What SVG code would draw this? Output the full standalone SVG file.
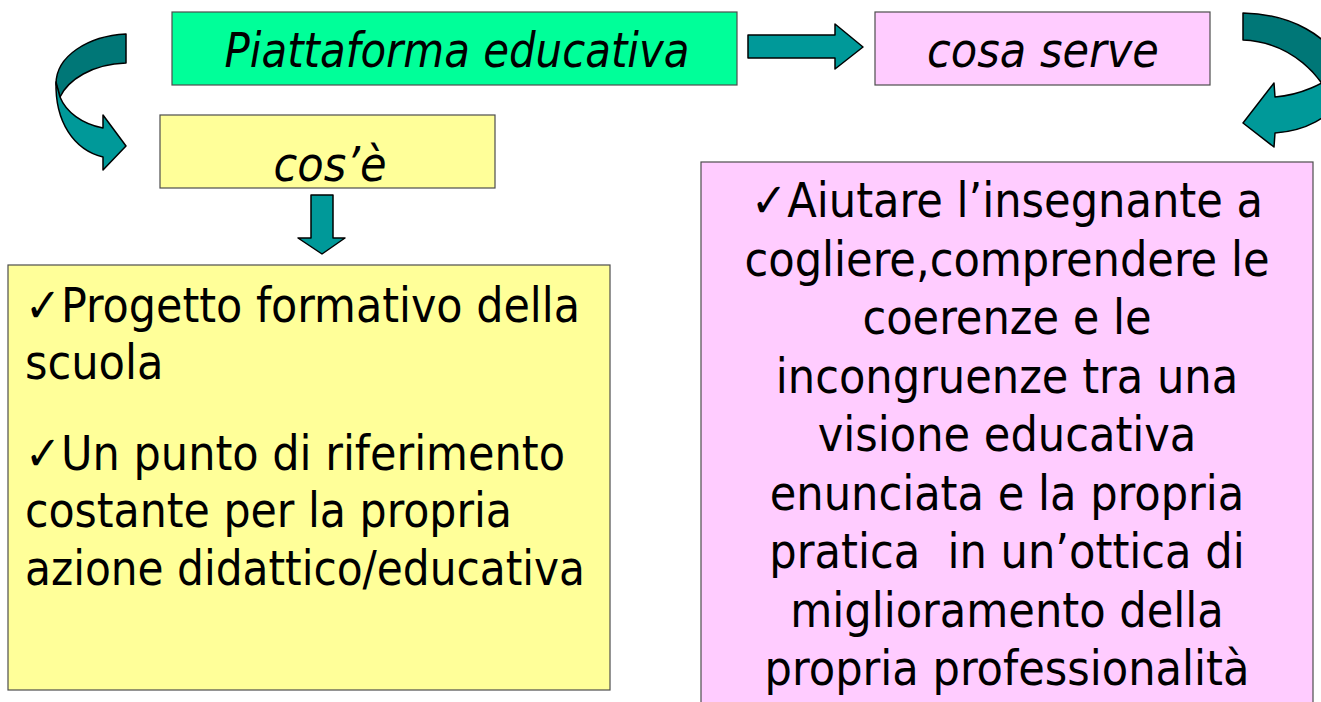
<svg xmlns="http://www.w3.org/2000/svg" width="1321" height="702" viewBox="0 0 1321 702">
<style>
.box{stroke:#4d4d4d;stroke-width:1.2}
.t{font-family:"DejaVu Sans","Liberation Sans",sans-serif;font-stretch:condensed;font-size:48px;fill:#000}
.it{font-style:italic}
.dark{fill:#007777;stroke:#000;stroke-width:1.5;stroke-linejoin:round}
.light{fill:#009999;stroke:#000;stroke-width:1.5;stroke-linejoin:round}
</style>
<rect width="1321" height="702" fill="#fff"/>
<g id="connectors">
<path class="dark" d="M126,34 C88,36 56,56 56,84 L60,97 C68,80 92,64 126,63 Z"/>
<path class="light" d="M56,82 C55,122 74,150 103,157 L103,170 L126,146 L103,115 L103,128 C82,124 66,112 60,97 Z"/>
<path class="light" d="M748,35 L835,35 L835,24 L863,47 L835,69 L835,58 L748,58 Z"/>
<path class="light" d="M311,195 L333,195 L333,238 L345,238 L322,254 L298,238 L311,238 Z"/>
<path class="dark" d="M1243,13 C1290,14 1330,35 1345,70 L1335,112 C1325,75 1290,42 1243,40 Z"/>
<path class="light" d="M1340,70 C1325,84 1300,95 1275,97 L1274,83 L1243,123 L1274,147 L1275,133 C1305,131 1330,118 1345,95 Z"/>
</g>
<g id="piattaforma">
<rect class="box" x="172" y="12" width="565" height="73" fill="#00ff99"/>
<text class="t it" x="457" y="67" text-anchor="middle" textLength="465" lengthAdjust="spacingAndGlyphs">Piattaforma educativa</text>
</g>
<g id="cosa-serve">
<rect class="box" x="875" y="12" width="335" height="73" fill="#ffccff"/>
<text class="t it" x="1043" y="67" text-anchor="middle">cosa serve</text>
</g>
<g id="cose">
<rect class="box" x="160" y="115" width="335" height="73" fill="#ffff99"/>
<text class="t it" x="330" y="181" text-anchor="middle">cos’è</text>
</g>
<g id="cose-content">
<rect class="box" x="8" y="265" width="602" height="425" fill="#ffff99"/>
<text class="t" x="25" y="322" textLength="555" lengthAdjust="spacingAndGlyphs">✓Progetto formativo della</text>
<text class="t" x="25" y="379">scuola</text>
<text class="t" x="25" y="470" textLength="540" lengthAdjust="spacingAndGlyphs">✓Un punto di riferimento</text>
<text class="t" x="25" y="527" textLength="487" lengthAdjust="spacingAndGlyphs">costante per la propria</text>
<text class="t" x="25" y="585" textLength="560" lengthAdjust="spacingAndGlyphs">azione didattico/educativa</text>
</g>
<g id="cosa-serve-content">
<rect class="box" x="701" y="162" width="612" height="560" fill="#ffccff"/>
<g class="t" text-anchor="middle">
<text x="1007" y="217">✓Aiutare l’insegnante a</text>
<text x="1007" y="276">cogliere,comprendere le</text>
<text x="1007" y="334">coerenze e le</text>
<text x="1007" y="393">incongruenze tra una</text>
<text x="1007" y="451">visione educativa</text>
<text x="1007" y="510">enunciata e la propria</text>
<text x="1007" y="568" xml:space="preserve">pratica  in un’ottica di</text>
<text x="1007" y="627">miglioramento della</text>
<text x="1007" y="685">propria professionalità</text>
</g>
</g>
</svg>
